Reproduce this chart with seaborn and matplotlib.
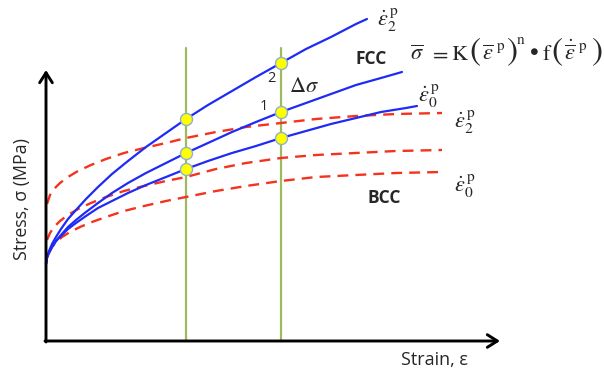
import numpy as np
import pandas as pd
import matplotlib
matplotlib.use("Agg")
import matplotlib.pyplot as plt
import seaborn as sns

# Strain grid (arbitrary units) shared by the FCC flow curves
fcc_grid = [0.0, 0.01, 0.03, 0.06, 0.10, 0.15, 0.22, 0.30, 0.40, 0.52, 0.66,
            0.82, 1.00, 1.20, 1.40, 1.62, 1.86, 2.10, 2.35, 2.60, 2.85, 3.10]

# FCC at the highest strain rate (eps_dot_2)
fcc_high_strain = fcc_grid + [3.21]
fcc_high = [0.77, 0.83, 0.90, 0.97, 1.04, 1.12, 1.22, 1.31, 1.42, 1.54, 1.67,
            1.80, 1.94, 2.08, 2.22, 2.36, 2.50, 2.64, 2.78, 2.92, 3.04, 3.17, 3.22]
# FCC at the intermediate strain rate
fcc_mid_strain = fcc_grid + [3.35, 3.56]
fcc_mid = [0.77, 0.83, 0.88, 0.94, 1.00, 1.06, 1.14, 1.21, 1.29, 1.38, 1.48,
           1.58, 1.68, 1.78, 1.88, 1.98, 2.09, 2.19, 2.29, 2.38, 2.47, 2.56, 2.63, 2.69]
# FCC at the reference strain rate (eps_dot_0)
fcc_low_strain = fcc_grid + [3.35, 3.60, 3.71]
fcc_low = [0.77, 0.84, 0.89, 0.94, 1.00, 1.05, 1.12, 1.18, 1.25, 1.33, 1.40,
           1.48, 1.56, 1.64, 1.72, 1.80, 1.88, 1.95, 2.03, 2.10, 2.17, 2.23, 2.29, 2.33, 2.35]

# BCC flow curves
bcc_high_strain = [0.01, 0.04, 0.08, 0.14, 0.22, 0.32, 0.45, 0.60, 0.78, 0.98,
                   1.20, 1.40, 1.70, 2.00, 2.35, 2.70, 3.10, 3.50, 3.96]
bcc_high = [1.37, 1.46, 1.52, 1.58, 1.64, 1.70, 1.76, 1.82, 1.88, 1.93,
            1.98, 2.03, 2.09, 2.14, 2.18, 2.22, 2.25, 2.27, 2.28]
bcc_mid_strain = bcc_high_strain
bcc_mid = [1.01, 1.08, 1.14, 1.20, 1.26, 1.32, 1.38, 1.44, 1.50, 1.55,
           1.60, 1.64, 1.72, 1.78, 1.83, 1.86, 1.88, 1.90, 1.91]
bcc_low_strain = [0.03, 0.06, 0.10, 0.16, 0.24, 0.34, 0.46, 0.60, 0.78, 0.98,
                  1.20, 1.40, 1.70, 2.00, 2.35, 2.70, 3.10, 3.50, 3.96]
bcc_low = [0.88, 0.94, 0.99, 1.04, 1.09, 1.14, 1.19, 1.24, 1.30, 1.35,
           1.40, 1.44, 1.50, 1.55, 1.60, 1.64, 1.66, 1.68, 1.69]

# Strains at which the FCC curves are compared
probe_strain = [1.40, 2.35]
probe_top = 2.93

rate_labels = [r"$\dot{\varepsilon}_{2}^{\,\mathrm{p}}$", r"$\dot{\varepsilon}_{0}^{\,\mathrm{p}}$"]

BLUE = "#1f2bf5"
RED = "#f5321e"
GREEN = "#9dbb5e"

sns.set_theme(style="white")
plt.rcParams["mathtext.fontset"] = "stix"
plt.rcParams["font.family"] = ["Open Sans", "DejaVu Sans"]

fig = plt.figure(figsize=(6.04, 3.78), dpi=100)
ax = fig.add_axes([0, 0, 1, 1])
ax.set_xlim(-0.46, 5.58)
ax.set_ylim(-0.37, 3.41)
ax.axis("off")


def at(px, py):
    """Figure pixel position -> data position for annotations."""
    return (px - 46) / 100.0, (341 - py) / 100.0


# Vertical comparison strains
for s in probe_strain:
    ax.plot([s, s], [0, probe_top], color=GREEN, lw=1.6, zorder=1)

# BCC curves (dashed)
for xs, vals in ((bcc_high_strain, bcc_high), (bcc_mid_strain, bcc_mid),
                 (bcc_low_strain, bcc_low)):
    df = pd.DataFrame({"strain": xs, "stress": vals})
    sns.lineplot(data=df, x="strain", y="stress", ax=ax, color=RED, lw=1.7,
                 sort=False, zorder=2, linestyle=(0, (4.6, 3.0)))

# FCC curves (solid)
fcc_sets = ((fcc_high_strain, fcc_high), (fcc_mid_strain, fcc_mid),
            (fcc_low_strain, fcc_low))
for xs, vals in fcc_sets:
    df = pd.DataFrame({"strain": xs, "stress": vals})
    sns.lineplot(data=df, x="strain", y="stress", ax=ax, color=BLUE, lw=1.6,
                 sort=False, zorder=3)

# Intersection markers taken from the FCC curve values at the probe strains
pts_x, pts_y = [], []
for xs, vals in fcc_sets:
    for s in probe_strain:
        pts_x.append(s)
        pts_y.append(vals[xs.index(s)])
sns.scatterplot(x=pts_x, y=pts_y, ax=ax, s=75, color="#ffff00",
                edgecolor="#8fb0d0", linewidth=1.0, zorder=5)

# Axes with arrows
arrow = dict(arrowstyle="->,head_length=0.6,head_width=0.38", lw=2.1, color="black",
             shrinkA=0, shrinkB=0)
ax.annotate("", xy=(4.54, 0), xytext=(-0.01, 0), arrowprops=arrow, zorder=6)
ax.annotate("", xy=(0, 2.71), xytext=(0, -0.01), arrowprops=arrow, zorder=6)

ax.text(*at(434, 360), "Strain, ε", fontsize=13, ha="center", va="center")
ax.text(*at(22, 199), "Stress, σ (MPa)", fontsize=12.8, rotation=90,
        ha="center", va="center")

# Curve annotations
ax.text(*at(388, 20), rate_labels[0], fontsize=16, ha="center", va="center")
ax.text(*at(429, 96), rate_labels[1], fontsize=16, ha="center", va="center")
ax.text(*at(465, 122), rate_labels[0], fontsize=16, ha="center", va="center")
ax.text(*at(465, 186), rate_labels[1], fontsize=16, ha="center", va="center")
ax.text(*at(371, 59), "FCC", fontsize=12.5, fontweight="bold", ha="center", va="center")
ax.text(*at(384, 198), "BCC", fontsize=12.5, fontweight="bold", ha="center", va="center")
ax.text(*at(271, 79), "2", fontsize=10.5, ha="center", va="center")
ax.text(*at(264, 107), "1", fontsize=10.5, ha="center", va="center")
ax.text(*at(304, 87), r"$\Delta\sigma$", fontsize=16, ha="center", va="center")

# Constitutive law, set glyph by glyph so the brackets can be tall
formula = [
    (417, 60, r"$\overline{\sigma}$", 16),
    (439, 60, r"$=$", 16),
    (460, 60, r"$\mathrm{K}$", 16),
    (475, 60, r"$($", 24),
    (488, 60, r"$\overline{\varepsilon}$", 16),
    (501, 50, r"$\mathrm{p}$", 11),
    (512, 60, r"$)$", 24),
    (521, 44, r"$\mathrm{n}$", 11),
    (534, 56, r"$\bullet$", 18),
    (547, 60, r"$\mathrm{f}$", 16),
    (557, 60, r"$($", 24),
    (570, 60, r"$\dot{\overline{\varepsilon}}$", 16),
    (583, 50, r"$\mathrm{p}$", 11),
    (597, 60, r"$)$", 24),
]
for px, py, txt, fs in formula:
    ax.text(*at(px, py), txt, fontsize=fs, ha="center", va="baseline")

fig.savefig("out.png", dpi=100)
